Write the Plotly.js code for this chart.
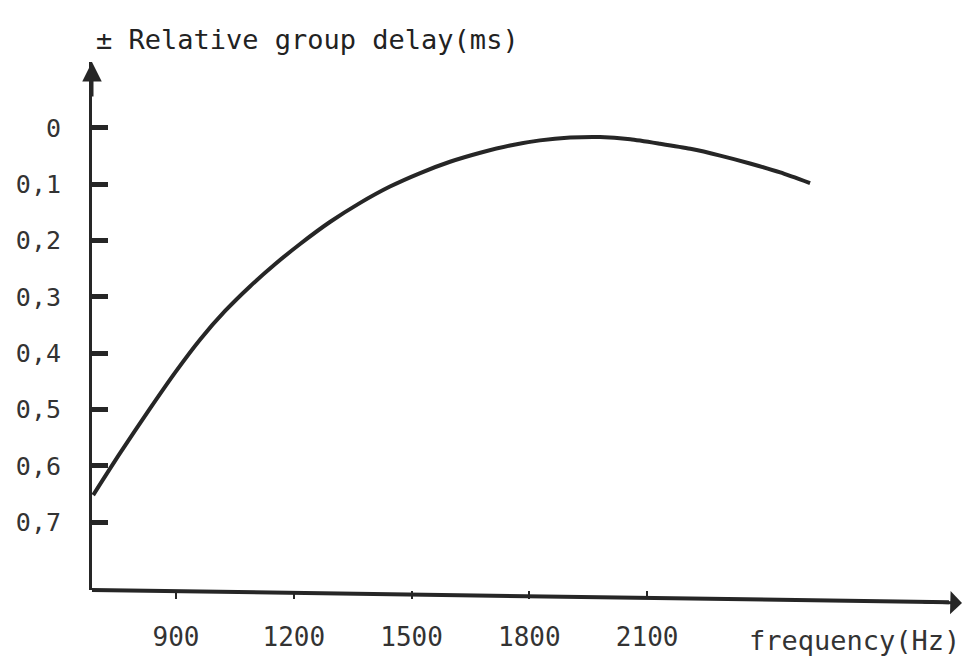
<!DOCTYPE html>
<html>
<head>
<meta charset="utf-8">
<script src="https://cdn.plot.ly/plotly-3.0.1.min.js"></script>
<style>html,body{margin:0;padding:0;background:#fff;}#chart{width:963px;height:663px;}</style>
</head>
<body>
<div id="chart"></div>
<script>
// Curve: frequency (Hz) vs relative group delay (ms)
var freq  = [689, 757, 834, 898, 961, 1025, 1089, 1152, 1216, 1292, 1369, 1445, 1522, 1598, 1675, 1751, 1827, 1904, 1980, 2057, 2133, 2210, 2286, 2362, 2439, 2515];
var delay = [0.652, 0.578, 0.498, 0.434, 0.376, 0.325, 0.281, 0.242, 0.206, 0.167, 0.133, 0.104, 0.080, 0.060, 0.044, 0.031, 0.022, 0.017, 0.016, 0.020, 0.028, 0.037, 0.049, 0.063, 0.079, 0.098];

var xTickVals = [900, 1200, 1500, 1800, 2100];
var xTickText = ['900', '1200', '1500', '1800', '2100'];
var yTickVals = [0, 0.1, 0.2, 0.3, 0.4, 0.5, 0.6, 0.7];
var yTickText = ['0', '0,1', '0,2', '0,3', '0,4', '0,5', '0,6', '0,7'];

var ink = '#262626';
var mono = '"DejaVu Sans Mono", "Liberation Mono", monospace';

var trace = {
  x: freq, y: delay, type: 'scatter', mode: 'lines',
  line: {color: ink, width: 4, shape: 'spline', smoothing: 0.6},
  hoverinfo: 'skip', showlegend: false
};

var layout = {
  width: 963, height: 663,
  margin: {l: 92, r: 1, t: 62, b: 73, pad: 0},
  paper_bgcolor: '#ffffff', plot_bgcolor: '#ffffff',
  font: {family: mono, color: '#333333', size: 22},
  title: {
    text: '± Relative group delay(ms)',
    font: {family: mono, size: 27, color: '#222222'},
    x: 96 / 963, xanchor: 'left', xref: 'container',
    y: 1 - 40 / 663, yanchor: 'middle', yref: 'container'
  },
  xaxis: {
    range: [686, 2902], autorange: false,
    showgrid: false, zeroline: false, showline: false,
    tickmode: 'array', tickvals: xTickVals, ticktext: xTickText,
    ticks: 'outside', ticklen: 8, tickwidth: 2, tickcolor: ink,
    ticklabelstandoff: 16,
    tickfont: {family: mono, size: 26, color: '#333333'}
  },
  yaxis: {
    range: [0.8206, -0.1172], autorange: false,
    showgrid: false, zeroline: false,
    showline: true, linecolor: ink, linewidth: 3,
    tickmode: 'array', tickvals: yTickVals, ticktext: yTickText,
    ticks: 'inside', ticklen: 16, tickwidth: 5, tickcolor: ink,
    ticklabelstandoff: 23,
    tickfont: {family: mono, size: 25, color: '#333333'}
  },
  shapes: [
    {type: 'line', xref: 'paper', yref: 'paper', x0: 0, y0: 0, x1: 0.985, y1: -0.023,
     line: {color: ink, width: 4}}
  ],
  annotations: [
    {xref: 'paper', yref: 'paper', x: 0, y: 1, ax: 0, ay: 36, axref: 'pixel', ayref: 'pixel',
     text: '', showarrow: true, arrowhead: 2, arrowsize: 1.3, arrowwidth: 3, arrowcolor: ink},
    {xref: 'paper', yref: 'paper', x: 1, y: -0.0245, ax: -40, ay: -1, axref: 'pixel', ayref: 'pixel',
     text: '', showarrow: true, arrowhead: 1, arrowsize: 1.3, arrowwidth: 3, arrowcolor: ink},
    {xref: 'paper', yref: 'paper', x: 1, y: -0.095, xanchor: 'right', yanchor: 'middle',
     text: 'frequency(Hz)', showarrow: false,
     font: {family: mono, size: 27, color: '#333333'}}
  ]
};

Plotly.newPlot('chart', [trace], layout, {staticPlot: true, displayModeBar: false});
</script>
</body>
</html>
